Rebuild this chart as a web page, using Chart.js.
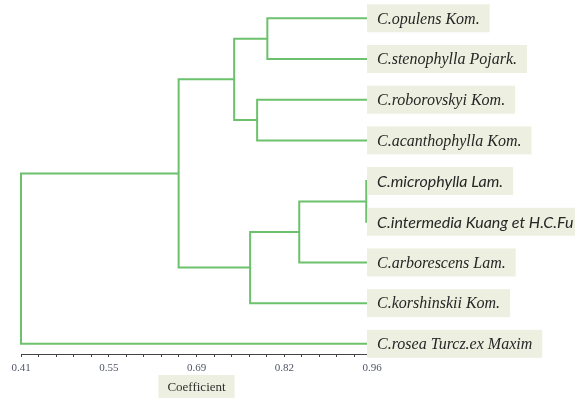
<!DOCTYPE html>
<html>
<head>
<meta charset="utf-8">
<script src="https://cdn.jsdelivr.net/npm/chart.js@4/dist/chart.umd.min.js"></script>
<style>
  html, body { margin: 0; padding: 0; background: #ffffff; }
  #wrap { width: 575px; height: 400px; position: relative; }
</style>
</head>
<body>
<div id="wrap"><canvas id="chart"></canvas></div>
<script>
// Species (leaves), listed top to bottom
const species = [
  'C.opulens Kom.',
  'C.stenophylla Pojark.',
  'C.roborovskyi Kom.',
  'C.acanthophylla Kom.',
  'C.microphylla Lam.',
  'C.intermedia Kuang et H.C.Fu',
  'C.arborescens Lam.',
  'C.korshinskii Kom.',
  'C.rosea Turcz.ex Maxim'
];

// Cluster joins: leaves are nodes 0..8, join k creates node 9 + k
const mergeFirst = [4, 9, 0, 2, 10, 11, 14, 15];
const mergeSecond = [5, 6, 1, 3, 7, 12, 13, 8];
const mergeCoefficient = [0.951, 0.846, 0.796, 0.780, 0.769, 0.744, 0.657, 0.410];

// Leaves sit at full similarity
const leafCoefficient = 0.96;

// Axis range and labelled ticks
const axisMin = 0.41;
const axisMax = 0.96;
const tickLabels = ['0.41', '0.55', '0.69', '0.82', '0.96'];
const minorPerMajor = 5;

// Build one bracket-shaped line per join
const nodeX = species.map(() => leafCoefficient);
const nodeY = species.map((_, i) => i);
const branchSets = mergeFirst.map((a, k) => {
  const b = mergeSecond[k];
  const h = mergeCoefficient[k];
  const pts = [
    { x: nodeX[a], y: nodeY[a] },
    { x: h, y: nodeY[a] },
    { x: h, y: nodeY[b] },
    { x: nodeX[b], y: nodeY[b] }
  ];
  nodeX.push(h);
  nodeY.push((nodeY[a] + nodeY[b]) / 2);
  return {
    data: pts,
    showLine: true,
    borderColor: '#6cc26c',
    borderWidth: 2,
    pointRadius: 0,
    tension: 0,
    fill: false,
    clip: false
  };
});

const sansLeaves = new Set([4, 5]);
const boxFill = '#edf0e0';

const leafLabels = {
  id: 'leafLabels',
  afterDraw(chart) {
    const { ctx, scales: { x, y } } = chart;
    ctx.save();
    ctx.textBaseline = 'middle';
    species.forEach((name, i) => {
      const py = y.getPixelForValue(i);
      const px = x.getPixelForValue(leafCoefficient) - 5;
      ctx.font = sansLeaves.has(i)
        ? 'italic 16px Lato, "Liberation Sans", sans-serif'
        : 'italic 16px "Liberation Serif", serif';
      const w = ctx.measureText(name).width + 20;
      ctx.fillStyle = boxFill;
      ctx.fillRect(px, py - 14, w, 28);
      ctx.fillStyle = '#262626';
      ctx.fillText(name, px + 10, py + 1);
    });

    // axis caption in its own box
    const cx = (x.left + x.right) / 2;
    const cy = 386.5;
    ctx.font = '13px "Liberation Serif", serif';
    const tw = ctx.measureText('Coefficient').width;
    ctx.fillStyle = boxFill;
    ctx.fillRect(cx - tw / 2 - 9, cy - 11.5, tw + 18, 23);
    ctx.fillStyle = '#303030';
    ctx.textAlign = 'center';
    ctx.fillText('Coefficient', cx, cy + 1);
    ctx.restore();
  }
};

new Chart(document.getElementById('chart'), {
  type: 'scatter',
  data: { datasets: branchSets },
  options: {
    responsive: true,
    maintainAspectRatio: false,
    animation: false,
    layout: { padding: { left: 21, right: 203, top: 0, bottom: 0 } },
    plugins: {
      legend: { display: false },
      tooltip: { enabled: false }
    },
    scales: {
      x: {
        type: 'linear',
        position: 'bottom',
        min: axisMin,
        max: axisMax,
        afterBuildTicks(axis) {
          const n = (tickLabels.length - 1) * minorPerMajor;
          const ticks = [];
          for (let i = 0; i <= n; i++) {
            ticks.push({ value: axisMin + (axisMax - axisMin) * i / n });
          }
          axis.ticks = ticks;
        },
        afterFit(axis) { axis.height = 46; },
        ticks: {
          autoSkip: false,
          maxRotation: 0,
          padding: 5,
          color: '#4f5666',
          font: { family: '"Liberation Serif", serif', size: 11 },
          callback: (value, index) =>
            index % minorPerMajor === 0 ? tickLabels[index / minorPerMajor] : ''
        },
        grid: {
          display: true,
          drawOnChartArea: false,
          drawTicks: true,
          tickLength: 3,
          color: '#444444'
        },
        border: { display: true, color: '#444444', width: 1 }
      },
      y: {
        type: 'linear',
        display: false,
        reverse: true,
        min: -0.45,
        max: 8.25
      }
    }
  },
  plugins: [leafLabels]
});
</script>
</body>
</html>
